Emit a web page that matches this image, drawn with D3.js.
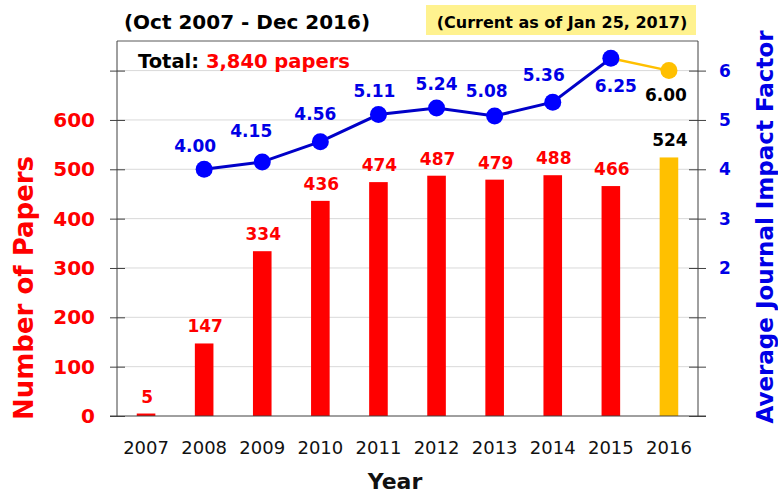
<!DOCTYPE html>
<meta charset="utf-8">
<style>
    body { margin: 0; background: #fff; }
    svg { font-family: "DejaVu Sans", Verdana, sans-serif; }
    .grid line { stroke: #d9d9d9; stroke-width: 1; }
    .axis path, .axis line { stroke: #404040; }
</style>
<svg width="778" height="493"></svg>
<script src="https://d3js.org/d3.v7.min.js"></script>
<script>

    var years = ["2007", "2008", "2009", "2010", "2011", "2012", "2013", "2014", "2015", "2016"];
    var papers = [5, 147, 334, 436, 474, 487, 479, 488, 466, 524];
    var impact = [null, 4.00, 4.15, 4.56, 5.11, 5.24, 5.08, 5.36, 6.25, 6.00];
    var leftTicks = [0, 100, 200, 300, 400, 500, 600, 700];
    var rightTicks = [-1, 0, 1, 2, 3, 4, 5, 6];
    // where each impact label sits relative to its point
    var labelOffset = [null, [-9, -17], [-11, -25], [-5, -22], [-4, -18], [0, -18], [-8, -19], [-9, -21], [5, 34], [-3, 30]];

    var svg = d3.select("svg");
    var plotLeft = 117, plotRight = 698, plotTop = 41, plotBottom = 416;

    var red = "#ff0000", blue = "#0000e6", orange = "#ffc000";

    var x = d3.scaleBand()
        .domain(years)
        .range([plotLeft, plotRight])
        .paddingInner(0.68)
        .paddingOuter(0.34);

    var y = d3.scaleLinear().domain([0, 760]).range([plotBottom, plotTop]);
    var y2 = d3.scaleLinear().domain([-1, 6.6]).range([plotBottom, plotTop]);

    function cx(d) { return x(d) + x.bandwidth() / 2; }

    // gridlines
    svg.append("g")
        .attr("class", "grid")
        .selectAll("line")
        .data(leftTicks.filter(function (d) { return d > 0; }))
        .enter().append("line")
        .attr("x1", plotLeft).attr("x2", plotRight)
        .attr("y1", function (d) { return y(d); })
        .attr("y2", function (d) { return y(d); });

    // top border
    svg.append("line")
        .attr("x1", plotLeft).attr("x2", plotRight)
        .attr("y1", plotTop).attr("y2", plotTop)
        .attr("stroke", "#595959");

    // bars
    svg.append("g")
        .selectAll("rect")
        .data(years)
        .enter().append("rect")
        .attr("x", function (d) { return x(d); })
        .attr("width", x.bandwidth())
        .attr("y", function (d, i) { return y(papers[i]); })
        .attr("height", function (d, i) { return plotBottom - y(papers[i]); })
        .attr("fill", function (d, i) { return i === years.length - 1 ? orange : red; });

    svg.append("g")
        .selectAll("text")
        .data(years)
        .enter().append("text")
        .attr("x", function (d) { return cx(d) + 1; })
        .attr("y", function (d, i) { return y(papers[i]) - 11; })
        .attr("text-anchor", "middle")
        .attr("font-size", "17px")
        .attr("font-weight", "bold")
        .attr("fill", function (d, i) { return i === years.length - 1 ? "#000" : red; })
        .text(function (d, i) { return papers[i]; });

    // left axis
    var axL = svg.append("g")
        .attr("class", "axis")
        .attr("transform", "translate(" + plotLeft + ",0)")
        .call(d3.axisLeft(y).tickValues(leftTicks).tickSize(7).tickSizeOuter(0)
            .tickFormat(function (d) { return d <= 600 ? d : ""; }));
    axL.select(".domain").attr("d", "M0," + plotTop + "V" + plotBottom);
    axL.selectAll(".tick line").attr("x1", 8).attr("x2", -7);
    axL.selectAll(".tick text")
        .attr("x", -22)
        .attr("fill", red)
        .attr("font-size", "20px")
        .attr("font-weight", "bold")
        .attr("font-family", "DejaVu Sans");

    // right axis
    var axR = svg.append("g")
        .attr("class", "axis")
        .attr("transform", "translate(" + plotRight + ",0)")
        .call(d3.axisRight(y2).tickValues(rightTicks).tickSize(8).tickSizeOuter(0)
            .tickFormat(function (d) { return d >= 2 ? d : ""; }));
    axR.select(".domain").attr("d", "M0," + plotTop + "V" + plotBottom);
    axR.selectAll(".tick line").attr("x1", -9).attr("x2", 8);
    axR.selectAll(".tick text")
        .attr("x", 21)
        .attr("fill", blue)
        .attr("font-size", "17px")
        .attr("font-weight", "bold")
        .attr("font-family", "DejaVu Sans");

    // bottom axis
    var axB = svg.append("g")
        .attr("class", "axis")
        .attr("transform", "translate(0," + plotBottom + ")")
        .call(d3.axisBottom(x).tickSize(0).tickPadding(0));
    axB.select(".domain").attr("d", "M110,0H706");
    axB.selectAll(".tick text")
        .attr("y", 38)
        .attr("dy", null)
        .attr("fill", "#111")
        .attr("font-size", "18px")
        .attr("font-family", "DejaVu Sans");

    // impact factor line
    var pts = years.map(function (d, i) { return { year: d, v: impact[i], i: i }; })
        .filter(function (p) { return p.v !== null; });
    var blueLine = pts.slice(0, pts.length - 1);
    var orangeLine = pts.slice(pts.length - 2);

    var line = d3.line()
        .x(function (p) { return cx(p.year); })
        .y(function (p) { return y2(p.v); });

    svg.append("path")
        .datum(orangeLine)
        .attr("d", line)
        .attr("fill", "none")
        .attr("stroke", orange)
        .attr("stroke-width", 2.5);

    svg.append("path")
        .datum(blueLine)
        .attr("d", line)
        .attr("fill", "none")
        .attr("stroke", "#0000c8")
        .attr("stroke-width", 3);

    svg.append("g")
        .selectAll("circle")
        .data(pts)
        .enter().append("circle")
        .attr("cx", function (p) { return cx(p.year); })
        .attr("cy", function (p) { return y2(p.v); })
        .attr("r", 8.5)
        .attr("fill", function (p, k) { return k === pts.length - 1 ? orange : "#0000ff"; });

    svg.append("g")
        .selectAll("text")
        .data(pts)
        .enter().append("text")
        .attr("x", function (p) { return cx(p.year) + labelOffset[p.i][0]; })
        .attr("y", function (p) { return y2(p.v) + labelOffset[p.i][1]; })
        .attr("text-anchor", "middle")
        .attr("font-size", "17px")
        .attr("font-weight", "bold")
        .attr("fill", function (p, k) { return k === pts.length - 1 ? "#000" : blue; })
        .text(function (p) { return p.v.toFixed(2); });

    // titles
    svg.append("text")
        .attr("x", 247).attr("y", 29)
        .attr("text-anchor", "middle")
        .attr("font-size", "20px")
        .attr("font-weight", "bold")
        .text("(Oct 2007 - Dec 2016)");

    svg.append("rect")
        .attr("x", 426).attr("y", 5)
        .attr("width", 270).attr("height", 30)
        .attr("fill", "#fff28f");
    svg.append("text")
        .attr("x", 562).attr("y", 28)
        .attr("text-anchor", "middle")
        .attr("font-size", "16px")
        .attr("font-weight", "bold")
        .text("(Current as of Jan 25, 2017)");

    var total = svg.append("text")
        .attr("x", 138).attr("y", 68)
        .attr("font-size", "19.5px")
        .attr("font-weight", "bold");
    total.append("tspan").text("Total: ");
    total.append("tspan").attr("fill", red).text("3,840 papers");

    svg.append("text")
        .attr("transform", "translate(33,288) rotate(-90)")
        .attr("text-anchor", "middle")
        .attr("font-size", "26px")
        .attr("font-weight", "bold")
        .attr("fill", red)
        .text("Number of Papers");

    svg.append("text")
        .attr("transform", "translate(773,227) rotate(-90)")
        .attr("text-anchor", "middle")
        .attr("font-size", "23px")
        .attr("font-weight", "bold")
        .attr("fill", blue)
        .text("Average Journal Impact Factor");

    svg.append("text")
        .attr("x", 395).attr("y", 489)
        .attr("text-anchor", "middle")
        .attr("font-size", "22px")
        .attr("font-weight", "bold")
        .attr("fill", "#111")
        .text("Year");

</script>
